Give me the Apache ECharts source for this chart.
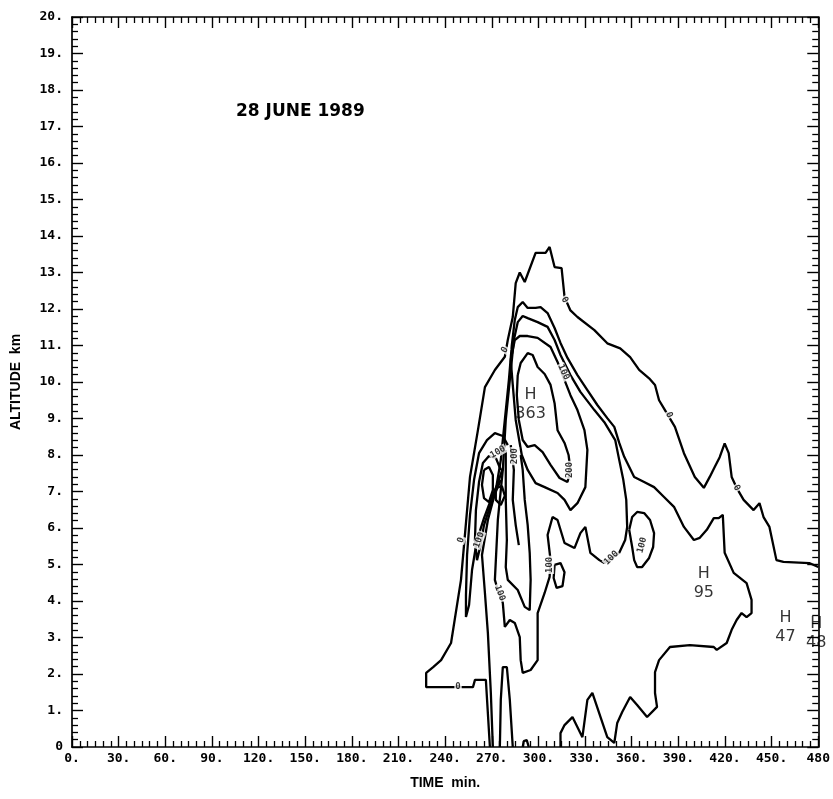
<!DOCTYPE html>
<html lang="en">
<head>
<meta charset="UTF-8">
<title>28 June 1989</title>
<script src="https://cdn.jsdelivr.net/npm/echarts@6/dist/echarts.min.js"></script>
</head>
<body style="margin:0;background:#fff;">
<div id="main" style="width:833px;height:799px;"></div>
<script>
// contour lines, each point is [time min, altitude km]
const line0 = [[268.8,0],[266.2,1.84],[259.2,1.84],[257.9,1.64],[227.8,1.64],[227.8,2.03],[232.3,2.19],[237.4,2.38],[243.8,2.85],[250.2,4.58],[256,7.40],[261.1,8.68],[265.6,9.86],[272,10.33],[278.4,10.69],[280.3,11.15],[283.5,11.78],[285.4,12.71],[288,13.0],[291.2,12.74],[298.2,13.54],[304.6,13.54],[307.2,13.7],[310.4,13.15],[314.9,13.12],[316.8,12.33],[320.6,11.96],[325.1,11.78],[336,11.42],[344.3,11.06],[352.6,10.92],[359,10.68],[364.8,10.33],[371.2,10.1],[375,9.92],[377.6,9.5],[381.4,9.23],[387.8,8.77],[393.6,8.05],[400.6,7.40],[406.4,7.10],[410.2,7.40],[413.4,7.67],[416.6,7.94],[419.8,8.32],[422.4,8.05],[424.3,7.40],[427.5,7.10],[432,6.77],[438.4,6.49],[442.2,6.68],[444.8,6.30],[448.6,6.03],[453.1,5.12],[457.6,5.07],[474.2,5.04],[480,4.93]];

const line100 = [[270.7,0],[269.4,1.48],[267.5,3.12],[265.6,4.22],[263.7,5.26],[267.5,6.22],[272.6,7.04],[275.8,7.86],[278.4,8.96],[281.0,10.05],[282.9,11.01],[284.8,11.70],[286.7,12.05],[289.9,12.19],[293.1,12.03],[298.2,12.03],[301.4,12.05],[305.9,11.89],[310.4,11.48],[314.2,11.07],[318.7,10.66],[325.1,10.19],[331.5,9.78],[337.9,9.37],[344.3,9.01],[348.8,8.77],[352.0,8.33],[355.2,7.95],[361.6,7.40],[368.0,7.26],[374.4,7.12],[380.8,6.85],[387.2,6.58],[393.6,6.03],[400.0,5.67],[403.8,5.73],[408.3,5.95],[412.8,6.27],[416.0,6.27],[418.6,6.36],[419.8,5.32],[425.6,4.77],[433.9,4.49],[437.1,4.03],[437.1,3.67],[433.9,3.56],[430.7,3.67],[427.5,3.48],[424.3,3.21],[421.1,2.85],[414.7,2.66],[412.8,2.74],[397.4,2.79],[384.6,2.74],[377.6,2.38],[375.0,2.05],[375.0,1.48],[376.3,1.10],[369.9,0.82],[363.5,1.15],[359.0,1.37],[353.9,0.96],[350.7,0.66],[348.8,0.11],[344.3,0.27],[334.7,1.48],[331.5,1.29],[328.3,0.27],[321.9,0.82],[316.8,0.60],[314.2,0.38],[314.2,0]];

const line100b = [[277.1,7.59],[273.9,6.22],[272.0,4.58],[273.9,4.30],[277.1,3.95],[278.4,3.29],[281.6,3.48],[284.8,3.40],[288.0,3.01],[288.6,2.38],[289.9,2.03],[295.0,2.11],[299.5,2.38],[299.5,3.67],[304.0,4.22],[307.2,4.66],[307.8,5.12],[305.9,5.81],[309.1,6.30],[312.3,6.22],[316.8,5.59],[323.2,5.45],[327.0,5.86],[330.2,6.03],[333.4,5.32],[339.2,5.12],[342.4,5.04],[352.0,5.32],[355.8,5.67],[357.1,6.03],[356.5,6.77],[354.6,7.32],[352.0,7.86],[349.4,8.41],[342.4,8.90],[336.0,9.23],[327.0,9.73],[320.6,10.19],[314.2,10.74],[310.4,11.15],[305.9,11.51],[299.5,11.64],[293.1,11.75],[289.9,11.81],[286.7,11.64],[284.2,11.15],[281.6,10.05],[279.0,8.96],[277.1,7.59]];

const line200 = [[282.2,10.60],[284.8,11.15],[288.0,11.26],[293.1,11.26],[299.5,11.21],[307.8,10.96],[312.3,10.55],[316.8,10.05],[320.6,9.64],[325.1,9.23],[329.6,8.68],[331.5,8.14],[330.2,7.12],[325.1,6.68],[320.6,6.49],[316.8,6.77],[312.3,6.96],[304.0,7.12],[298.2,7.23],[293.1,7.59],[289.3,8.00],[285.4,8.96],[283.5,9.92],[282.2,10.60]];

const line300 = [[286.7,10.19],[288.6,10.52],[293.1,10.79],[296.3,10.74],[299.5,10.41],[304.0,10.22],[307.8,9.92],[310.4,9.42],[312.3,8.68],[316.8,8.33],[319.4,8.00],[320.6,7.59],[318.7,7.26],[313.6,7.37],[307.8,7.73],[302.7,8.08],[297.6,8.27],[293.1,8.22],[289.9,8.41],[287.4,8.96],[286.1,9.64],[286.7,10.19]];

const loopEast = [[358.4,5.95],[360.3,6.30],[363.5,6.44],[368.0,6.41],[371.8,6.22],[374.4,5.86],[373.8,5.48],[371.2,5.18],[366.7,4.93],[363.5,4.93],[361.6,5.12],[360.3,5.48],[358.4,5.95]];
const loopSmall = [[310.4,4.99],[314.2,5.04],[316.8,4.79],[315.5,4.41],[311.7,4.36],[309.8,4.63],[310.4,4.99]];

const westA = [[280.3,8.27],[277.1,8.52],[272.0,8.60],[266.9,8.41],[261.8,8.05],[258.6,7.32],[256.0,6.36],[254.1,5.26],[253.4,4.16],[253.4,3.56],[255.4,3.89],[257.3,4.85],[260.5,5.67],[265.0,6.27],[269.4,6.77],[273.9,7.23],[277.1,7.64]];
const westB = [[275.8,7.59],[272.6,7.92],[268.2,7.97],[264.3,7.78],[261.8,7.26],[259.8,6.49],[259.2,5.67],[260.5,5.12],[262.4,5.45],[265.0,6.08],[268.8,6.58],[272.6,6.99],[275.8,7.32]];
const westC = [[265.0,7.59],[268.2,7.67],[270.7,7.45],[270.7,7.04],[268.2,6.71],[265.0,6.82],[263.7,7.18],[265.0,7.59]];
const westD = [[272.6,7.10],[276.5,7.15],[278.4,6.88],[275.8,6.63],[272.6,6.77],[272.6,7.10]];

const tongue = [[279.0,8.14],[279.0,6.77],[279.7,5.67],[279.0,4.93],[280.3,4.58],[286.7,4.30],[291.2,3.84],[294.4,3.75],[295.0,4.58],[294.4,5.32],[293.1,6.08],[291.2,6.77],[289.9,7.59],[288.6,8.00]];
const ridge = [[282.2,8.27],[284.2,7.59],[283.5,6.77],[285.4,6.08],[287.4,5.53]];
const groundA = [[275.2,0],[275.8,1.29],[277.1,2.19],[279.7,2.19],[281.6,1.29],[283.5,0]];
const groundB = [[289.9,0],[290.6,0.16],[292.5,0.19],[293.8,0]];

// contour labels: time, altitude, text, rotation
const contourLabels = [
  [248.3,1.64,'0',0],[250.2,5.67,'0',70],[278.4,10.88,'0',60],[316.8,12.25,'0',-60],
  [384.0,9.10,'0',-65],[427.5,7.10,'0',-60],
  [316.2,10.27,'100',-65],[273.9,8.08,'100',30],[261.8,5.67,'100',70],[275.2,4.22,'100',-70],
  [307.2,4.99,'100',90],[346.9,5.18,'100',45],[366.7,5.53,'100',75],
  [320.0,7.59,'200',90],[284.8,7.97,'200',90]
];

// maxima: time, altitude, text
const maxima = [[295.0,9.4,'H\n363'],[406.4,4.49,'H\n95'],[458.9,3.29,'H\n47'],[478.7,3.12,'H\n48']];

const xTicks = {min: 0, max: 480, interval: 30};
const yTicks = {min: 0, max: 20, interval: 1};

const chart = echarts.init(document.getElementById('main'));

const contours = [line0, line100, line100b, line200, line300, loopEast, loopSmall,
  westA, westB, westC, westD, tongue, ridge, groundA, groundB];

const series = contours.map(d => ({
  type: 'line', data: d, symbol: 'none', silent: true,
  lineStyle: {color: '#000', width: 2.3}
}));

series.push({
  type: 'scatter', symbolSize: 1, silent: true, z: 5,
  itemStyle: {color: 'rgba(0,0,0,0)'},
  label: {show: true, position: 'inside', fontSize: 9, fontWeight: 'bold',
    fontFamily: 'DejaVu Sans Mono', color: '#000', backgroundColor: '#fff', padding: [0, 1]},
  data: contourLabels.map(l => ({value: [l[0], l[1]], label: {formatter: l[2], rotate: l[3]}}))
});

series.push({
  type: 'scatter', symbolSize: 1, silent: true, z: 6,
  itemStyle: {color: 'rgba(0,0,0,0)'},
  label: {show: true, position: 'inside', fontSize: 16, lineHeight: 19,
    fontFamily: 'DejaVu Sans', color: '#000', align: 'center'},
  data: maxima.map(m => ({value: [m[0], m[1]], label: {formatter: m[2]}}))
});

const tickFont = {fontFamily: 'DejaVu Sans Mono', fontWeight: 'bold', fontSize: 13, color: '#000'};
const axisBase = {
  type: 'value', splitLine: {show: false},
  axisLine: {show: true, onZero: false, lineStyle: {color: '#000', width: 1.7}},
  axisTick: {show: true, inside: true, length: 11, lineStyle: {color: '#000', width: 1.4}},
  minorTick: {show: true, length: 6, lineStyle: {color: '#000', width: 1.3}}
};
const nameFont = {fontFamily: 'Liberation Sans', fontWeight: 'bold', fontSize: 14, color: '#000'};

chart.setOption({
  animation: false,
  backgroundColor: '#fff',
  title: {text: '28 JUNE 1989', left: 231, top: 98,
    textStyle: {fontSize: 17, fontWeight: 'bold', fontFamily: 'DejaVu Sans', color: '#000'}},
  grid: {left: 72, right: 11, top: 17, bottom: 52},
  xAxis: [
    Object.assign({}, axisBase, xTicks, {
      position: 'bottom',
      minorTick: Object.assign({}, axisBase.minorTick, {splitNumber: 6}),
      axisLabel: Object.assign({}, tickFont, {margin: 5,
        formatter: v => v === 480 ? '480' : v + '.'}),
      name: 'TIME  min.', nameLocation: 'middle', nameGap: 29, nameTextStyle: nameFont
    }),
    Object.assign({}, axisBase, xTicks, {
      position: 'top',
      minorTick: Object.assign({}, axisBase.minorTick, {splitNumber: 6}),
      axisLabel: {show: false}
    })
  ],
  yAxis: [
    Object.assign({}, axisBase, yTicks, {
      position: 'left',
      minorTick: Object.assign({}, axisBase.minorTick, {splitNumber: 5}),
      axisLabel: Object.assign({}, tickFont, {margin: 9,
        formatter: v => v === 0 ? '0' : v + '.'}),
      name: 'ALTITUDE  km', nameLocation: 'middle', nameGap: 49, nameTextStyle: nameFont
    }),
    Object.assign({}, axisBase, yTicks, {
      position: 'right',
      minorTick: Object.assign({}, axisBase.minorTick, {splitNumber: 5}),
      axisLabel: {show: false}
    })
  ],
  series: series
});
</script>
</body>
</html>
